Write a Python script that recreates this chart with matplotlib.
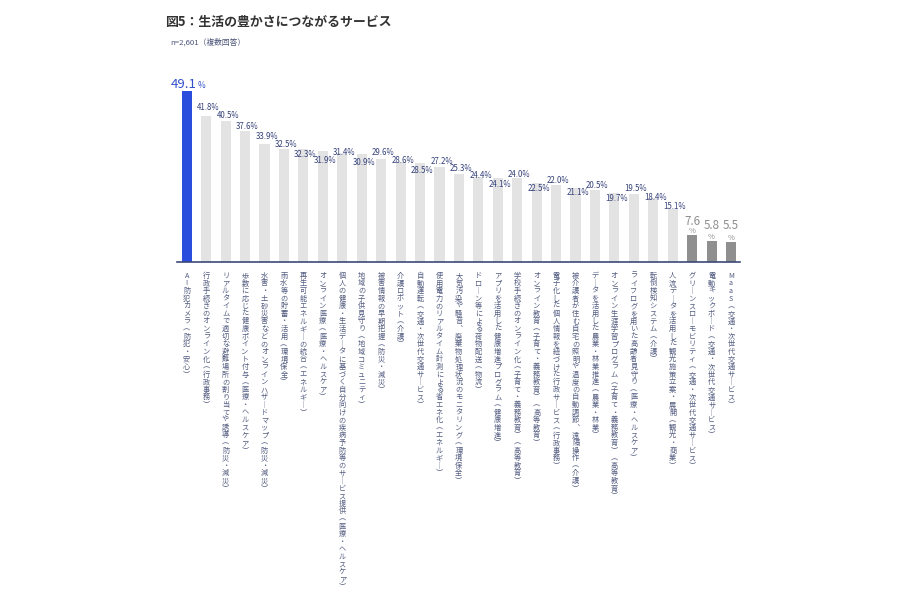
import matplotlib
matplotlib.use("Agg")
import matplotlib.pyplot as plt

plt.rcParams['font.family'] = ['Noto Sans CJK JP', 'DejaVu Sans']

title = "図5：生活の豊かさにつながるサービス"
subtitle = "n=2,601（複数回答）"

services = [
    "AI防犯カメラ（防犯・安心）",
    "行政手続きのオンライン化（行政事務）",
    "リアルタイムで適切な避難場所の割り当てや誘導（防災・減災）",
    "歩数に応じた健康ポイント付与（医療・ヘルスケア）",
    "水害・土砂災害などのオンラインハザードマップ（防災・減災）",
    "雨水等の貯蓄・活用（環境保全）",
    "再生可能エネルギーの統合（エネルギー）",
    "オンライン医療（医療・ヘルスケア）",
    "個人の健康・生活データに基づく自分向けの疾病予防等のサービス提供（医療・ヘルスケア）",
    "地域の子供見守り（地域コミュニティ）",
    "被害情報の早期把握（防災・減災）",
    "介護ロボット（介護）",
    "自動運転（交通・次世代交通サービス）",
    "使用電力のリアルタイム計測による省エネ化（エネルギー）",
    "大気汚染や騒音、廃棄物処理状況のモニタリング（環境保全）",
    "ドローン等による荷物配送（物流）",
    "アプリを活用した健康増進プログラム（健康増進）",
    "学校手続きのオンライン化（子育て・義務教育）（高等教育）",
    "オンライン教育（子育て・義務教育）（高等教育）",
    "電子化した個人情報を紐づけた行政サービス（行政事務）",
    "被介護者が住む自宅の照明や温度の自動調節、遠隔操作（介護）",
    "データを活用した農業・林業推進（農業・林業）",
    "オンライン生涯学習プログラム（子育て・義務教育）（高等教育）",
    "ライフログを用いた高齢者見守り（医療・ヘルスケア）",
    "転倒検知システム（介護）",
    "人流データを活用した観光施策立案・展開（観光・商業）",
    "グリーンスローモビリティ（交通・次世代交通サービス）",
    "電動キックボード（交通・次世代交通サービス）",
    "MaaS（交通・次世代交通サービス）",
]
values = [49.1, 41.8, 40.5, 37.6, 33.9, 32.5, 32.3, 31.9, 31.4, 30.9,
          29.6, 28.6, 28.5, 27.2, 25.3, 24.4, 24.1, 24.0, 22.5, 22.0,
          21.1, 20.5, 19.7, 19.5, 18.4, 15.1, 7.6, 5.8, 5.5]
groups = ['top'] + ['mid'] * 25 + ['low'] * 3

# 数値ラベルの上下位置（px、棒の上端から。マイナスは棒に重ねる）
label_dy = [3.4, 9, 5.5, 4.8, 7.4, 4.7, -5, -10, 0, -8,
            6, 2, -8, 6, 5, 1, -7, 3.7, -5.4, 4.7,
            -4, 5, -5.7, 5, 0.5, 2.6, 14, 16, 17]

bar_color = {'top': '#2a4ddd', 'mid': '#e3e3e3', 'low': '#8f8f8f'}
navy = '#36427a'
label_color = '#535c80'
PX = 0.72  # 1px -> pt (dpi=100)

# 縦書き用の置き換え
vert_map = {'（': '︵', '）': '︶', 'ー': '︱', '、': '︑'}


def to_vertical(s):
    return [vert_map.get(c, c) for c in s]


fig = plt.figure(figsize=(9, 6), dpi=100)
fig.patch.set_facecolor('white')
ax = fig.add_axes([177 / 900, 1 - 261.5 / 600, 563 / 900, 191.5 / 600])

x = list(range(len(values)))
ax.bar(x, values, width=0.52, color=[bar_color[g] for g in groups], zorder=2)
ax.set_xlim(-0.5, 28.46)
ax.set_ylim(0, 55.2)

for s in ['top', 'right', 'left']:
    ax.spines[s].set_visible(False)
ax.spines['bottom'].set_color('#3c4878')
ax.spines['bottom'].set_linewidth(1.2)
ax.spines['bottom'].set_zorder(3)
ax.set_xticks([])
ax.set_yticks([])

# 数値ラベル
for i, (v, g) in enumerate(zip(values, groups)):
    if g == 'top':
        ax.annotate(f"{v:.1f}", (i, v), xytext=(7.4, label_dy[i] * PX), textcoords='offset points',
                    ha='right', va='baseline', fontsize=9.5, color='#3350c8')
        ax.annotate("%", (i, v), xytext=(7.6, label_dy[i] * PX), textcoords='offset points',
                    ha='left', va='baseline', fontsize=6, color='#3350c8')
    elif g == 'low':
        ax.annotate(f"{v:.1f}", (i, v), xytext=(0, label_dy[i] * PX), textcoords='offset points',
                    ha='center', va='center', fontsize=8.3, color='#8c8c8c')
        ax.annotate("%", (i, v), xytext=(0, 4 * PX), textcoords='offset points',
                    ha='center', va='center', fontsize=5.5, color='#8c8c8c')
    else:
        ax.annotate(f"{v:.1f}%", (i, v), xytext=(1.5, label_dy[i] * PX), textcoords='offset points',
                    ha='center', va='center', fontsize=5.7, color=navy)

# 縦書きのカテゴリラベル（1文字ずつ配置）
pitch = 7.6 * PX
pad = 10 * PX
em = 5.2
for i, name in enumerate(services):
    for j, ch in enumerate(to_vertical(name)):
        ax.annotate(ch, (i, 0), xycoords=ax.get_xaxis_transform(),
                    xytext=(0, -(pad + j * pitch + 0.88 * em)), textcoords='offset points',
                    ha='center', va='baseline', fontsize=em, color=label_color,
                    annotation_clip=False)

fig.text(165 / 900, 1 - 22 / 600, title, fontsize=9.3, fontweight='bold',
         color='#333333', ha='left', va='center')
fig.text(170 / 900, 1 - 42 / 600, subtitle, fontsize=5.6, color='#4b5478',
         ha='left', va='center')

fig.savefig('out.png', dpi=100, facecolor='white')
